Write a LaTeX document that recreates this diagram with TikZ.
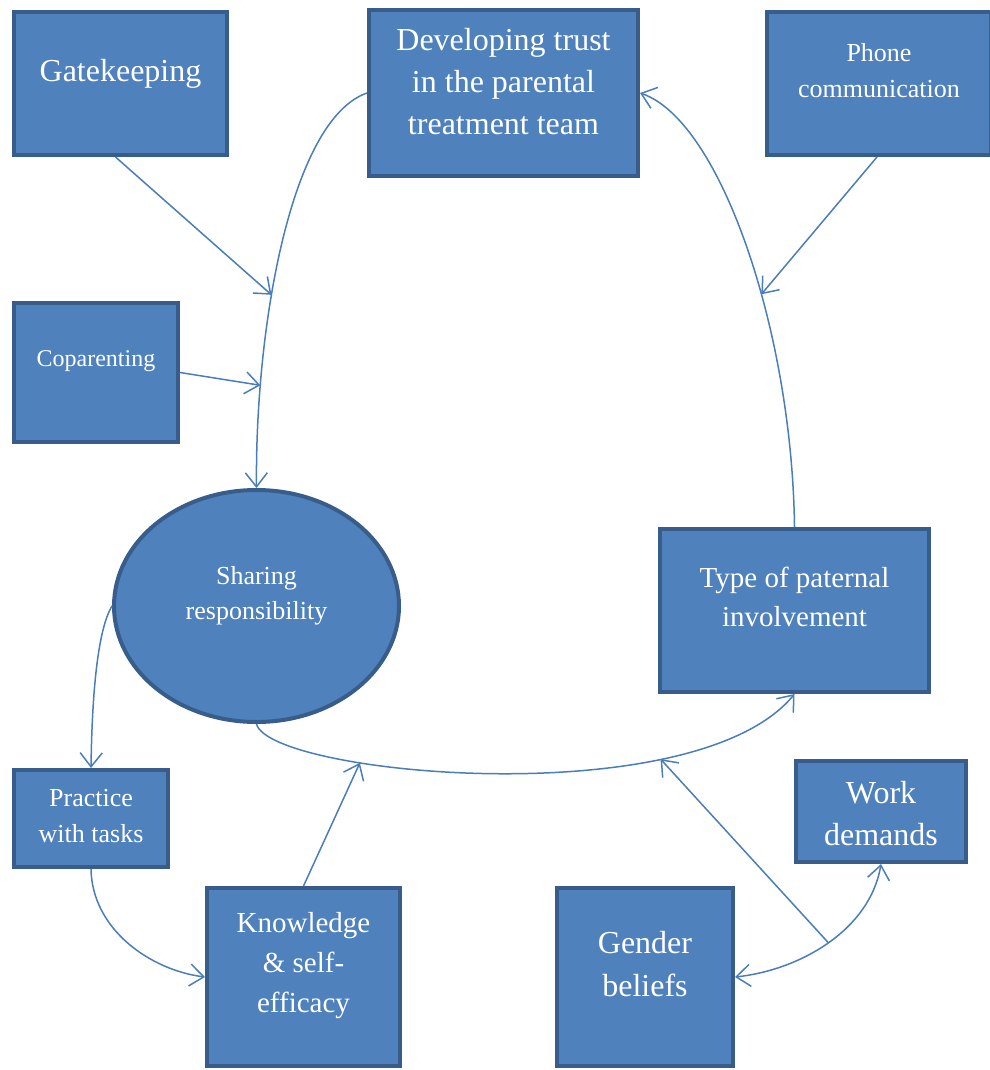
\documentclass[tikz,border=0pt]{standalone}
\usepackage{fontspec}
\setmainfont{Liberation Serif}
\usetikzlibrary{arrows.meta,shapes.geometric}
\definecolor{boxfill}{HTML}{4F81BD}
\definecolor{boxline}{HTML}{385D8A}
\definecolor{linkblue}{HTML}{4A7EBB}

\begin{document}
\begin{tikzpicture}[x=1pt, y=-1pt, >={Straight Barb[length=14pt,width=22pt]}]
  \tikzset{factor/.style={rectangle, draw=boxline, fill=boxfill, line width=4pt, inner sep=0pt}}
  \tikzset{says/.style={text=white, align=center}}
  \tikzset{link/.style={draw=linkblue, line width=1.5pt}}

  \useasboundingbox (0,0) rectangle (989,1070);

  % boxes
  \node[factor, minimum width=213pt, minimum height=143pt,
    label={[says, yshift=10pt, font=\fontsize{32}{42}\selectfont]center:Gatekeeping}] (gate) at (120.5,83.5) {};
  \node[factor, minimum width=269pt, minimum height=166pt,
    label={[says, yshift=11pt, font=\fontsize{32}{42}\selectfont]center:{Developing trust\\in the parental\\treatment team}}] (trust) at (503.5,93) {};
  \node[factor, minimum width=224pt, minimum height=143pt,
    label={[says, yshift=12.5pt, font=\fontsize{26}{36}\selectfont]center:{Phone\\communication}}] (phone) at (879,83.5) {};
  \node[factor, minimum width=164pt, minimum height=139pt,
    label={[says, yshift=11.5pt, font=\fontsize{24}{32}\selectfont]center:Coparenting}] (cop) at (96,372.5) {};
  \node[factor, ellipse, minimum width=285pt, minimum height=232pt,
    label={[says, yshift=10.5pt, font=\fontsize{26}{35}\selectfont]center:{Sharing\\responsibility}}] (share) at (256.5,606) {};
  \node[factor, minimum width=269pt, minimum height=163pt,
    label={[says, yshift=14pt, font=\fontsize{29}{39}\selectfont]center:{Type of paternal\\involvement}}] (type) at (794.5,610.5) {};
  \node[factor, minimum width=154pt, minimum height=97pt,
    label={[says, yshift=2.5pt, font=\fontsize{26}{36}\selectfont]center:{Practice\\with tasks}}] (practice) at (91,818.5) {};
  \node[factor, minimum width=193pt, minimum height=178pt,
    label={[says, yshift=11pt, font=\fontsize{29}{40}\selectfont]center:{Knowledge\\\& self-\\efficacy}}] (know) at (303.5,977) {};
  \node[factor, minimum width=176pt, minimum height=178pt,
    label={[says, yshift=12.5pt, font=\fontsize{32}{43}\selectfont]center:{Gender\\beliefs}}] (gender) at (645,977) {};
  \node[factor, minimum width=170pt, minimum height=101pt,
    label={[says, yshift=-2.5pt, font=\fontsize{32}{42}\selectfont]center:{Work\\demands}}] (work) at (881,811.5) {};

  % curved links
  \draw[link, ->] (trust.west) .. controls +(-77,27) and +(-1.5,-158) ..
    coordinate[pos=0.613] (gateHit) coordinate[pos=0.793] (copHit) (share.north);
  \draw[link, ->] (type.north) .. controls +(-2.5,-197) and +(80,27) ..
    coordinate[pos=0.405] (phoneHit) (trust.east);
  \draw[link, ->] (share.west) .. controls +(-15,25) and +(1,-70) .. (practice.north);
  \draw[link, ->] (practice.south) .. controls +(1,60) and +(-55,-7) .. (know.west);
  \draw[link, ->] (share.south) .. controls +(13.5,51) and +(-99.5,121) ..
    coordinate[pos=0.3] (knowHit) coordinate[pos=0.735] (genderHit) (type.south);
  \draw[link, <->] (gender.east) .. controls +(65,-7) and +(-11,66) ..
    coordinate[pos=0.5] (pairMid) (work.south);

  % straight links
  \draw[link, ->] ([xshift=-5pt]gate.south) -- (gateHit);
  \draw[link, ->] (cop.east) -- (copHit);
  \draw[link, ->] ([xshift=-2pt]phone.south) -- (phoneHit);
  \draw[link, ->] (know.north) -- (knowHit);
  \draw[link, ->] (pairMid) -- (genderHit);
\end{tikzpicture}
\end{document}
